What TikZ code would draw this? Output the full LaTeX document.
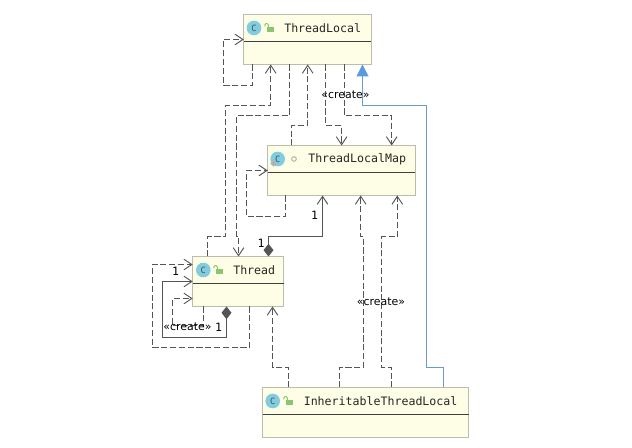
\documentclass[tikz,border=0pt]{standalone}
\usepackage{fontspec}
\setmainfont{DejaVu Sans}
\setmonofont{DejaVu Sans Mono}
\usetikzlibrary{arrows.meta,shapes.geometric}
\definecolor{boxfill}{HTML}{FEFEE6}
\definecolor{boxline}{HTML}{BDBDAB}
\definecolor{linegray}{HTML}{555555}
\definecolor{bluearrow}{HTML}{5A9BE0}
\definecolor{blueline}{HTML}{6A9CCB}
\definecolor{iconblue}{HTML}{7FCDDF}
\definecolor{icongreen}{HTML}{8CC56F}
\tikzset{
  x=0.75pt,y=-0.75pt,
  classbox/.style={draw=boxline,fill=boxfill,line width=0.75pt,rectangle,inner sep=0pt,outer sep=0pt,minimum height=37.5pt},
  sepline/.style={draw=black!75,line width=0.75pt},
  title/.style={font=\ttfamily\fontsize{8.7}{10}\selectfont,text=black!85,anchor=west,inner sep=0pt},
  cicon/.style={circle,fill=iconblue,minimum size=11pt,inner sep=0pt,font=\ttfamily\fontsize{6.5}{7}\selectfont,text=black!70},
  lbl/.style={font=\fontsize{8.2}{10}\selectfont,inner sep=0pt,text=black},
  num/.style={font=\ttfamily\fontsize{8.6}{10}\selectfont,inner sep=0pt,text=black},
  dep/.style={draw=linegray,line width=0.75pt,dash pattern=on 4.6pt off 2pt,-{Straight Barb[length=6pt,width=8pt,line width=0.7pt]}},
  selfdep/.style={dep},
  comp/.style={draw=linegray,line width=0.75pt,{Diamond[length=9.5pt,width=7.5pt,fill=linegray]}-{Straight Barb[length=6pt,width=8pt,line width=0.7pt]}},
  inherit/.style={draw=blueline,line width=0.75pt,-{Triangle[length=9pt,width=9pt,fill=bluearrow,color=bluearrow]}},
  lockic/.pic={
    \fill[icongreen] (-2.5,-0.5) rectangle (4,4.5);
    \draw[icongreen,line width=0.7pt] (-1.5,-0.5) -- (-1.5,-3) -- (-2.5,-4.3) -- (-4,-4.3) -- (-5,-3) -- (-5,-1.5);
  }
}
\begin{document}
\begin{tikzpicture}
\useasboundingbox[fill=white] (0,0) rectangle (632,448);

% class boxes
\node[classbox,minimum width=95.6pt] (tl) at (307.5,39.5) {};
\node[classbox,minimum width=110.6pt] (tlm) at (341.5,170.5) {};
\node[classbox,minimum width=68.2pt] (th) at (238.2,281.5) {};
\node[classbox,minimum width=154.5pt] (itl) at (365.7,412.5) {};

\draw[sepline] (tl.west |- 0,41.5) -- (tl.east |- 0,41.5);
\draw[sepline] (tlm.west |- 0,172.5) -- (tlm.east |- 0,172.5);
\draw[sepline] (th.west |- 0,283.5) -- (th.east |- 0,283.5);
\draw[sepline] (itl.west |- 0,414.5) -- (itl.east |- 0,414.5);

% headers
\node[cicon] (ctl) at (254,28) {C};
\pic at (269.8,28) {lockic};
\node[title] (ttl) at (284,28.5) {ThreadLocal};

\node[cicon] (ctlm) at (277.7,159) {C};
\node[diamond,fill=gray!60,minimum size=5pt,inner sep=0pt] (dtlm) at (273.5,163.5) {};
\node[circle,draw=gray!70,line width=0.6pt,minimum size=3.5pt,inner sep=0pt] (otlm) at (294,159) {};
\node[title] (ttlm) at (308,159.5) {ThreadLocalMap};

\node[cicon] (cth) at (203.3,270) {C};
\pic at (218.8,270) {lockic};
\node[title] (tth) at (233,270.5) {Thread};

\node[cicon] (citl) at (272.7,401) {C};
\pic at (288.8,401) {lockic};
\node[title] (titl) at (303.5,401.5) {InheritableThreadLocal};

% ThreadLocal connectors
\draw[selfdep] (252.5,0 |- tl.south) -- (252.5,85.5) -- (223.5,85.5) -- (223.5,39.5) -- (tl.west |- 0,39.5);
\draw[dep] (207.5,0 |- th.north) -- (207.5,237) -- (225.5,237) -- (225.5,105.5) -- (270.7,105.5) -- (270.7,0 |- tl.south);
\draw[dep] (289.5,0 |- tl.south) -- (289.5,115.5) -- (236.5,115.5) -- (236.5,237) -- (238.5,237) -- (238.5,0 |- th.north);
\draw[dep] (291.5,0 |- tlm.north) -- (291.5,125.5) -- (307.7,125.5) -- (307.7,0 |- tl.south);
\draw[dep] (325.5,0 |- tl.south) -- (325.5,125.5) -- (341.6,125.5) -- (341.6,0 |- tlm.north);
\draw[dep] (344.5,0 |- tl.south) -- (344.5,115.5) -- (391.7,115.5) -- (391.7,0 |- tlm.north);

% inheritance
\draw[inherit] (443.5,0 |- itl.north) -- (443.5,367.5) -- (426.7,367.5) -- (426.7,105.5) -- (362.5,105.5) -- (362.5,0 |- tl.south);

% ThreadLocalMap connectors
\draw[selfdep] (285.5,0 |- tlm.south) -- (285.5,216.5) -- (246.5,216.5) -- (246.5,170.5) -- (tlm.west |- 0,170.5);
\draw[comp] (268.5,0 |- th.north) -- (268.5,237) -- (322.5,237) -- (322.5,0 |- tlm.south);

% Thread connectors
\draw[selfdep] (249.5,0 |- th.south) -- (249.5,347.5) -- (152.5,347.5) -- (152.5,264.5) -- (th.west |- 0,264.5);
\draw[comp] (226.5,0 |- th.south) -- (226.5,337.5) -- (162.5,337.5) -- (162.5,281.5) -- (th.west |- 0,281.5);
\draw[selfdep] (203.5,0 |- th.south) -- (203.5,326) -- (172.5,326) -- (172.5,298.5) -- (th.west |- 0,298.5);

% InheritableThreadLocal connectors
\draw[dep] (288.5,0 |- itl.north) -- (288.5,367.5) -- (272.5,367.5) -- (272.5,0 |- th.south);
\draw[dep] (339,0 |- itl.north) -- (339,367.5) -- (363.5,367.5) -- (363.5,237) -- (360.7,237) -- (360.7,0 |- tlm.south);
\draw[dep] (391.5,0 |- itl.north) -- (391.5,367.5) -- (381.7,367.5) -- (381.7,237) -- (397.3,237) -- (397.3,0 |- tlm.south);

% labels
\node[lbl] (c1) at (345.5,95) {«create»};
\node[lbl] (c2) at (381,302) {«create»};
\node[lbl] (c3) at (187.5,327) {«create»};
\node[num] (n1) at (314.5,215.5) {1};
\node[num] (n2) at (261,243) {1};
\node[num] (n3) at (175.5,271) {1};
\node[num] (n4) at (218.5,327) {1};
\end{tikzpicture}
\end{document}
